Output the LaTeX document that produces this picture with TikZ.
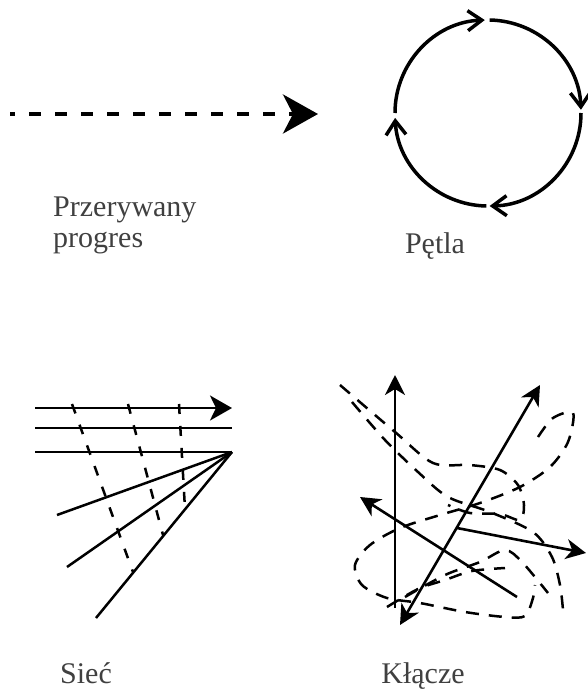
\documentclass[tikz,border=0pt]{standalone}
\usepackage{fontspec}
\setmainfont{Liberation Serif}
\usetikzlibrary{arrows.meta}
\begin{document}
\begin{tikzpicture}[x=1pt,y=-1pt,
  lbl/.style={font=\fontsize{30}{31}\selectfont, text=black!75, inner sep=0pt},
  circ/.style={line width=3.5pt, -{Straight Barb[length=14pt,width=20pt]}},
  netline/.style={line width=2.5pt},
  netdash/.style={line width=2.5pt, dash pattern=on 10pt off 12pt},
  rhsolid/.style={line width=2.6pt},
  rhdash/.style={line width=2.5pt, dash pattern=on 13pt off 10pt},
  tip/.style={-{Stealth[length=20pt,width=20pt,inset=6pt]}},
  dtip/.style={{Stealth[length=20pt,width=20pt,inset=6pt]}-{Stealth[length=20pt,width=20pt,inset=6pt]}}]
\useasboundingbox (0,0) rectangle (588,691);

% Przerywany progres
\coordinate (ds) at (10,114);
\coordinate (de) at (318,114);
\draw[line width=4pt, dash pattern=on 12pt off 14pt, dash phase=7pt,
  -{Stealth[length=35pt,width=39pt,inset=10pt]}] (ds) -- (de);
\node[lbl, anchor=base west, align=left] (t1) at (53,247) {Przerywany\\progres};

% Petla
\coordinate (c) at (488,113);
\draw[circ] (c) ++(180:93) arc[start angle=180,end angle=268,radius=93];
\draw[circ] (c) ++(271:93) arc[start angle=271,end angle=358,radius=93];
\draw[circ] (c) ++(0:93) arc[start angle=0,end angle=89,radius=93];
\draw[circ] (c) ++(91:93) arc[start angle=91,end angle=177,radius=93];
\node[lbl, anchor=base] (t2) at (435,253) {Pętla};

% Siec
\coordinate (s1a) at (35,408); \coordinate (s1b) at (232,408);
\coordinate (s2a) at (35,428); \coordinate (s2b) at (232,428);
\coordinate (s3a) at (35,452); \coordinate (f) at (232,452);
\coordinate (f1) at (57,515); \coordinate (f2) at (67,567); \coordinate (f3) at (96,618);
\draw[netline, -{Stealth[length=22pt,width=25pt,inset=6pt]}] (s1a) -- (s1b);
\draw[netline] (s2a) -- (s2b);
\draw[netline] (s3a) -- (f);
\draw[netline] (f) -- (f1);
\draw[netline] (f) -- (f2);
\draw[netline] (f) -- (f3);
\draw[netdash] (72,404) -- (133,572);
\draw[netdash] (128,404) -- (163,535);
\draw[netdash] (179,404) -- (185,509);
\node[lbl, anchor=base] (t3) at (86,683) {Sieć};

% Klacze
\coordinate (v0) at (395,608); \coordinate (v1) at (395,375);
\coordinate (g0) at (400,625); \coordinate (g1) at (540,385);
\coordinate (l0) at (517,597); \coordinate (l1) at (360,497);
\coordinate (r0) at (457,528); \coordinate (r1) at (586,553);
\draw[rhsolid, tip] (v0) -- (v1);
\draw[rhsolid, dtip] (g0) -- (g1);
\draw[rhsolid, tip] (l0) -- (l1);
\draw[rhsolid, tip] (r0) -- (r1);
% dashed tangle
\draw[rhdash] plot[smooth] coordinates {(340,385) (395,432) (433,463) (470,465) (500,470) (518,485) (524,505) (520,520) (500,514) (470,513) (448,505)};
\draw[rhdash] plot[smooth] coordinates {(352,402) (385,440) (418,472) (448,497) (490,512) (533,532) (552,557) (560,585) (563,610)};
\draw[rhdash] plot[smooth] coordinates {(538,437) (553,418) (573,413) (568,442) (550,467) (520,487) (480,503) (440,515) (400,528) (370,545) (355,565) (362,585) (387,598) (420,603) (465,612) (505,617) (525,616) (533,598) (535,585)};
\draw[rhdash] plot[smooth] coordinates {(387,607) (418,589) (445,580) (472,571) (505,568)};
\draw[rhdash] plot[smooth] coordinates {(405,597) (445,575) (480,562) (505,550) (522,562) (548,593)};
\node[lbl, anchor=base] (t4) at (423,683) {Kłącze};
\end{tikzpicture}
\end{document}
